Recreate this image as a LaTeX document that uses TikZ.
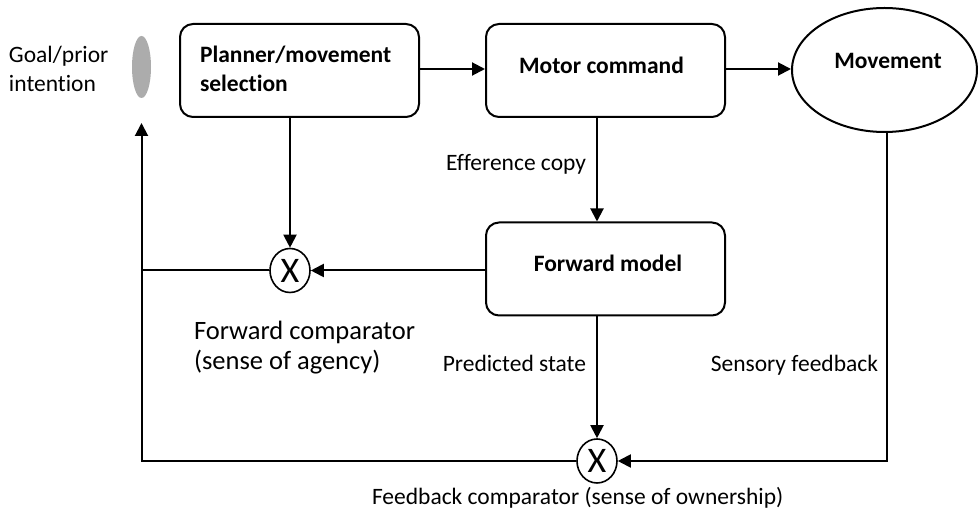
\documentclass[tikz,border=0pt]{standalone}
\usepackage{fontspec}
\setmainfont{Carlito}[Ligatures={NoCommon,NoRare,NoContextual}]
\usetikzlibrary{arrows.meta,shapes.geometric}
\begin{document}
\begin{tikzpicture}[x=1pt,y=-1pt,
  line width=2pt,
  box/.style={draw,rounded corners=13pt,minimum width=239pt,minimum height=93pt,inner sep=0pt},
  bold/.style={font=\fontsize{23.5}{29}\selectfont\bfseries,inner sep=0pt},
  lbl/.style={font=\fontsize{23.5}{29}\selectfont,inner sep=0pt},
  big/.style={font=\fontsize{26.5}{30}\selectfont,inner sep=0pt},
  cmp/.style={draw,ellipse,minimum width=40pt,minimum height=44pt,inner sep=0pt,line width=1.6pt,font=\fontsize{36}{36}\selectfont},
  arr/.style={-{Triangle[length=13pt,width=13pt]}}]
\useasboundingbox (0,0) rectangle (978,510);
\node[box] (plan) at (299.5,70.5) {};
\node[bold,anchor=base west] (plantext1) at (199,63) {Planner/movement};
\node[bold,anchor=base west] (plantext2) at (199,92) {selection};
\node[box] (motor) at (605.5,70.5) {};
\node[bold,anchor=base] (motortext) at (601.5,74) {Motor command};
\node[draw,ellipse,minimum width=185pt,minimum height=124pt,inner sep=0pt] (mov) at (884.5,70) {};
\node[bold,anchor=base] (movtext) at (888,69) {Movement};
\node[box] (fwd) at (605.5,269) {};
\node[bold,anchor=base] (fwdtext) at (608,272) {Forward model};
\node[ellipse,fill=gray!65,minimum width=19pt,minimum height=62pt,inner sep=0pt] (goal) at (141.5,67) {};
\node[lbl,anchor=base west] (goaltext1) at (8,63) {Goal/prior};
\node[lbl,anchor=base west] (goaltext2) at (8,92) {intention};
\node[cmp] (c1) at (290,270.5) {X};
\node[cmp] (c2) at (597,461) {X};
\node[big,anchor=base west] (fctext1) at (193,340) {Forward comparator};
\node[big,anchor=base west] (fctext2) at (193,370) {(sense of agency)};
\node[lbl,anchor=base west] (fbtext) at (371,505) {Feedback comparator (sense of ownership)};
\node[lbl,anchor=base east] (eff) at (587,171) {Efference copy};
\node[lbl,anchor=base east] (pred) at (587,372) {Predicted state};
\node[lbl,anchor=base east] (sens) at (879,372) {Sensory feedback};
\coordinate (mvdown) at (887,461);
\coordinate (leftbot) at (141.5,461);
\coordinate (leftmid) at (141.5,270.5);
\coordinate (goalarr) at (141.5,123);
\draw[arr] (plan.east |- 0,69) -- (motor.west |- 0,69);
\draw[arr] (motor.east |- 0,69) -- (mov.west |- 0,69);
\draw[arr] (plan.south -| c1) -- (c1.north);
\draw[arr] (motor.south -| 597,0) -- (fwd.north -| 597,0);
\draw[arr] (fwd.west |- c1) -- (c1.east);
\draw[arr] (fwd.south -| c2) -- (c2.north);
\draw[arr] (mov.south -| mvdown) -- (mvdown) -- (c2.east);
\draw (c1.west) -- (leftmid);
\draw[arr] (c2.west) -- (leftbot) -- (goalarr);
\end{tikzpicture}
\end{document}
